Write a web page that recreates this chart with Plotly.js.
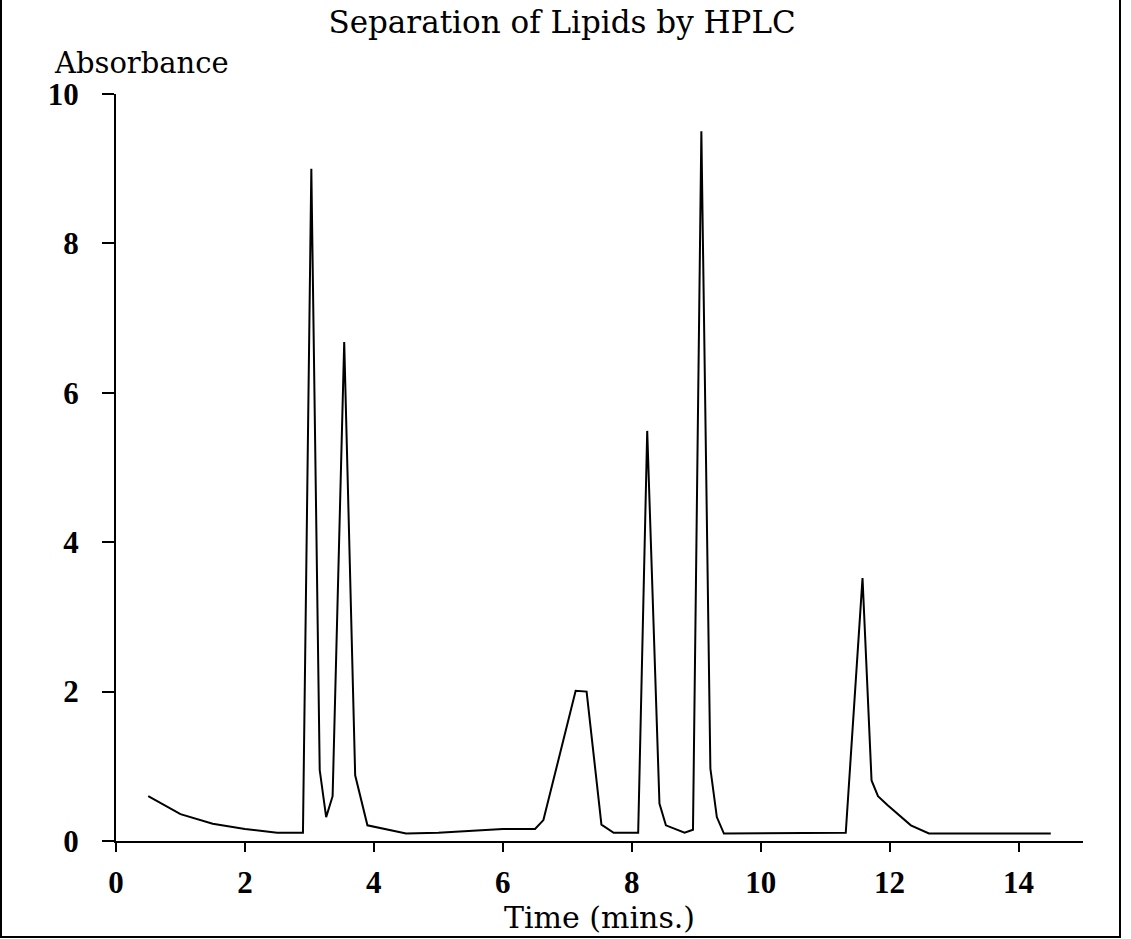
<!DOCTYPE html>
<html>
<head>
<meta charset="utf-8">
<script src="https://cdn.plot.ly/plotly-3.0.1.min.js"></script>
<style>
  html, body { margin: 0; padding: 0; background: #fff; }
  #chart { width: 1131px; height: 939px; position: absolute; left: 0; top: 0; }
  #frame { position: absolute; left: 0; top: 0; width: 1117px; height: 936px;
           border-left: 2px solid #000; border-right: 2px solid #000; border-bottom: 2px solid #000;
           pointer-events: none; }
</style>
</head>
<body>
<div id="chart"></div>
<div id="frame"></div>
<script>
// Time (mins.)
const timeMins = [0.5, 1.0, 1.5, 2.0, 2.5, 2.9, 3.03, 3.16, 3.26, 3.36, 3.54, 3.71, 3.9, 4.5, 5.0,
                  6.0, 6.5, 6.63, 7.13, 7.3, 7.53, 7.72, 8.1, 8.24, 8.43, 8.53, 8.82, 8.95, 9.08,
                  9.22, 9.32, 9.43, 11.32, 11.58, 11.72, 11.82, 11.97, 12.33, 12.61, 14.5];
// Absorbance
const absorbance = [0.6, 0.36, 0.23, 0.16, 0.11, 0.11, 9.0, 0.95, 0.32, 0.6, 6.68, 0.88, 0.21, 0.1, 0.11,
                    0.16, 0.16, 0.28, 2.01, 2.0, 0.22, 0.11, 0.11, 5.49, 0.5, 0.21, 0.11, 0.15, 9.5,
                    0.97, 0.32, 0.1, 0.11, 3.52, 0.81, 0.6, 0.48, 0.21, 0.1, 0.1];
const xTicks = [0, 2, 4, 6, 8, 10, 12, 14];
const yTicks = [0, 2, 4, 6, 8, 10];

const FONT = "'DejaVu Serif', 'Liberation Serif', serif";
const NUMFONT = "'Liberation Serif', 'DejaVu Serif', serif";

const trace = {
  x: timeMins, y: absorbance, type: 'scatter', mode: 'lines',
  line: { color: '#000', width: 2 }, hoverinfo: 'skip'
};

const layout = {
  width: 1131, height: 939,
  margin: { l: 116, r: 48, t: 94, b: 98 },
  paper_bgcolor: '#fff', plot_bgcolor: '#fff',
  showlegend: false,
  title: {
    text: 'Separation of Lipids by HPLC',
    font: { family: FONT, size: 31, color: '#000' },
    xref: 'container', x: 0.497, xanchor: 'center',
    yref: 'container', y: 0.976, yanchor: 'middle'
  },
  xaxis: {
    range: [0, 15], tickvals: xTicks, ticktext: xTicks.map(String),
    showgrid: false, zeroline: false, showline: true, linecolor: '#000', linewidth: 2,
    ticks: 'outside', ticklen: 9, tickwidth: 2, tickcolor: '#000', ticklabelstandoff: 4,
    tickfont: { family: NUMFONT, size: 31, color: '#000', weight: 'bold' },
    title: { text: 'Time (mins.)', font: { family: FONT, size: 30, color: '#000' }, standoff: 5 }
  },
  yaxis: {
    range: [0, 10], tickvals: yTicks, ticktext: yTicks.map(String),
    showgrid: false, zeroline: false, showline: true, linecolor: '#000', linewidth: 2,
    ticks: 'outside', ticklen: 12, tickwidth: 2, tickcolor: '#000', ticklabelstandoff: 17,
    tickfont: { family: NUMFONT, size: 31, color: '#000', weight: 'bold' }
  },
  annotations: [{
    text: 'Absorbance', xref: 'paper', yref: 'paper',
    x: -0.066, xanchor: 'left', y: 1.041, yanchor: 'middle',
    showarrow: false, font: { family: FONT, size: 29, color: '#000' }
  }]
};

Plotly.newPlot('chart', [trace], layout, { staticPlot: true, displayModeBar: false });
</script>
</body>
</html>
